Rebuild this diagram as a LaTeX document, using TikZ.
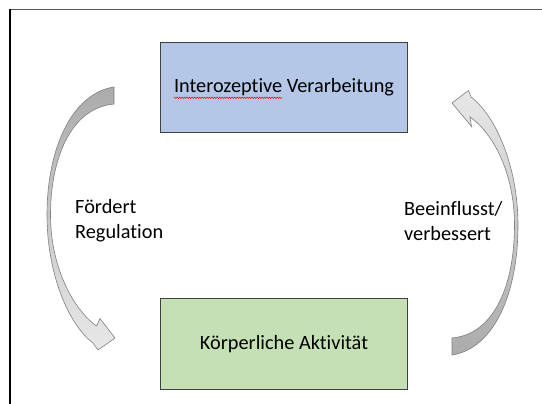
\documentclass[tikz,border=0pt]{standalone}
\usepackage{fontspec}
\setmainfont{Carlito}[Ligatures=NoCommon]
\usetikzlibrary{decorations.pathmorphing}
\definecolor{boxblue}{HTML}{B4C7E7}
\definecolor{boxgreen}{HTML}{C5E0B4}
\definecolor{boxline}{HTML}{404040}
\definecolor{arrdark}{HTML}{ABABAB}
\definecolor{arrlight}{HTML}{E8E8E8}
\definecolor{arrline}{HTML}{7F7F7F}
\definecolor{frameline}{HTML}{595959}
\tikzset{
  mainbox/.style={draw=boxline, line width=1pt, minimum width=247pt, minimum height=90pt, inner sep=0pt, anchor=north west},
  lbl/.style={align=left, anchor=west, inner sep=0pt},
  bentarrow/.style={draw=arrline, line width=0.6pt, line join=miter},
  spellwave/.style={draw=red, line width=0.5pt, decorate, decoration={snake, amplitude=0.7pt, segment length=2.5pt}},
}
\begin{document}
\begin{tikzpicture}[x=1pt,y=-1pt]
\fontsize{20.3}{25}\selectfont
\useasboundingbox (0,0) rectangle (542,404);
\fill[white] (0,0) rectangle (542,404);
% frame lines
\draw[frameline, line width=1.6pt] (10,9.5) -- (542,9.5);
\draw[black, line width=1.3pt] (10,9) -- (10,404);
% boxes
\node[mainbox, fill=boxblue] (interozeption) at (160,42) {};
\node[inner sep=0pt] (interotext) at (interozeption.center) {Interozeptive Verarbeitung};
\node[inner sep=0pt, anchor=base west] (interoword) at (interotext.base west) {\phantom{Interozeptive}};
\draw[spellwave] ([yshift=-5pt]interoword.base west) -- ([yshift=-5pt]interoword.base east);
\node[mainbox, fill=boxgreen, minimum height=91pt] (aktivitaet) at (160,298) {};
\node at (aktivitaet.center) (aktivtext) {Körperliche Aktivität};
% left curved arrow (top -> bottom)
\path[bentarrow, top color=arrdark, bottom color=arrlight]
  (114,87)
  .. controls (74,93) and (47,145) .. (47,215)
  .. controls (47,273) and (68,324) .. (93,343)
  -- (98,350) -- (115,338) -- (100,318.5) -- (96.5,326)
  .. controls (74,310) and (50.5,268) .. (50.5,215)
  .. controls (50.5,160) and (70,108) .. (114,104)
  -- cycle;
% right curved arrow (bottom -> top)
\path[bentarrow, top color=arrlight, bottom color=arrdark]
  (452,355)
  .. controls (492,349) and (518,297) .. (518,225)
  .. controls (518,167) and (496,116) .. (471,97)
  -- (468.5,90.5) -- (452,103) -- (471.5,126.5) -- (470,117)
  .. controls (492,132) and (514.5,172) .. (514.5,225)
  .. controls (514.5,282) and (496,334) .. (452,338)
  -- cycle;
% labels
\node[lbl] (foerdert) at (75,221) {Fördert\\Regulation};
\node[lbl] (beeinflusst) at (404,221) {Beeinflusst/\\verbessert};
\end{tikzpicture}
\end{document}
